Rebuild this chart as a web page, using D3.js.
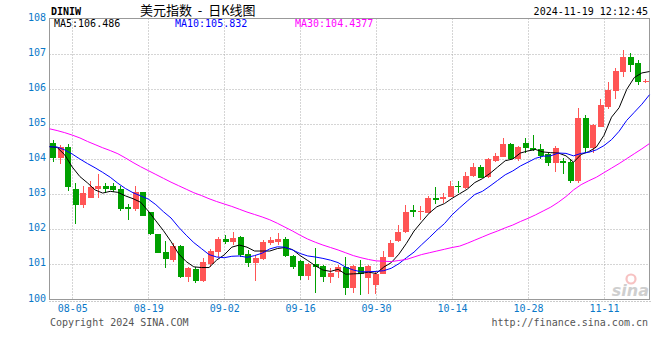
<!DOCTYPE html>
<html>
<head>
<meta charset="utf-8">
<script src="https://cdn.jsdelivr.net/npm/d3@7"></script>
<style>
  body { margin: 0; background: #fff; }
  svg text { font-family: "DejaVu Sans Mono", monospace; font-size: 10px; }
  .ylab text, .xlab text { fill: #0a78c8; }
</style>
</head>
<body>
<div id="kline"></div>
<script>
// trading days shown (07-31 .. 11-19)
const dates = [
  "07-31","08-01","08-02","08-05","08-06","08-07","08-08","08-09","08-12","08-13",
  "08-14","08-15","08-16","08-19","08-20","08-21","08-22","08-23","08-26","08-27",
  "08-28","08-29","08-30","09-02","09-03","09-04","09-05","09-06","09-09","09-10",
  "09-11","09-12","09-13","09-16","09-17","09-18","09-19","09-20","09-23","09-24",
  "09-25","09-26","09-27","09-30","10-01","10-02","10-03","10-04","10-07","10-08",
  "10-09","10-10","10-11","10-14","10-15","10-16","10-17","10-18","10-21","10-22",
  "10-23","10-24","10-25","10-28","10-29","10-30","10-31","11-01","11-04","11-05",
  "11-06","11-07","11-08","11-11","11-12","11-13","11-14","11-15","11-18","11-19"
];

const openV = [
  104.46,104.04,104.35,103.16,102.69,102.90,103.16,103.23,103.23,103.14,
  102.63,102.58,103.05,102.48,101.86,101.35,101.12,101.52,100.65,100.86,
  100.54,101.00,101.34,101.71,101.65,101.77,101.29,101.05,101.15,101.62,
  101.63,101.71,101.24,101.10,100.67,101.01,100.95,100.65,100.79,100.93,
  100.34,100.92,100.60,100.41,100.74,101.22,101.67,101.93,102.55,102.49,
  102.47,102.88,102.85,102.92,103.23,103.18,103.51,103.78,103.48,103.95,
  104.06,104.43,103.99,104.46,104.32,104.28,104.13,103.89,103.95,103.92,
  103.37,105.17,104.32,104.92,105.49,105.93,106.48,106.91,106.74,106.20
];
const highV = [
  104.54,104.40,104.44,103.31,103.23,103.37,103.57,103.31,103.33,103.22,
  102.72,103.23,103.06,102.50,101.87,101.66,101.60,101.55,100.93,100.93,
  101.19,101.43,101.79,101.84,101.93,101.81,101.41,101.27,101.69,101.79,
  101.88,101.79,101.27,101.12,101.05,101.48,100.98,100.89,100.98,101.22,
  100.98,101.12,100.99,100.81,101.38,101.69,102.12,102.69,102.69,102.66,
  102.95,103.21,103.02,103.37,103.37,103.64,103.89,103.83,104.04,104.16,
  104.61,104.46,104.37,104.59,104.68,104.44,104.16,104.37,104.02,104.00,
  105.46,105.25,105.01,105.72,106.20,106.58,107.10,107.01,106.83,106.27
];
const lowV = [
  103.92,103.86,103.10,102.15,102.61,102.88,102.88,103.02,103.05,102.53,
  102.26,102.53,102.38,101.83,101.31,100.91,101.08,100.60,100.51,100.48,
  100.51,100.92,101.22,101.57,101.55,101.22,100.93,100.53,101.12,101.55,
  101.55,101.20,100.86,100.55,100.55,100.18,100.51,100.46,100.60,100.13,
  100.18,100.13,100.16,100.15,100.73,101.20,101.65,101.88,102.34,102.26,
  102.45,102.72,102.76,102.91,103.02,103.16,103.50,103.45,103.45,103.92,
  104.05,103.99,103.95,104.16,104.24,104.00,103.81,103.64,103.57,103.32,
  103.31,104.18,104.18,104.90,105.42,105.72,106.34,106.48,106.12,106.17
];
const closeV = [
  104.04,104.33,103.21,102.69,103.02,103.19,103.23,103.14,103.12,102.59,
  102.58,103.05,102.39,101.86,101.33,101.15,101.52,100.65,100.91,100.54,
  101.06,101.38,101.72,101.65,101.74,101.27,101.05,101.17,101.65,101.69,
  101.71,101.24,100.93,100.67,101.01,100.93,100.65,100.76,100.93,100.34,
  100.95,100.73,100.95,100.74,101.22,101.62,101.93,102.50,102.48,102.52,
  102.88,102.84,102.91,103.23,103.21,103.51,103.78,103.47,103.99,104.08,
  104.43,104.01,104.33,104.30,104.27,104.09,103.89,104.32,103.89,103.37,
  105.16,104.32,104.97,105.54,105.96,106.51,106.91,106.67,106.20,106.23
];

const ma5 = [
  104.35,104.33,104.12,103.77,103.50,103.32,103.12,103.03,103.08,103.05,
  102.95,102.87,102.77,102.52,102.24,101.96,101.65,101.30,101.08,100.93,
  100.91,100.91,101.12,101.27,101.49,101.55,101.49,101.38,101.38,101.38,
  101.45,101.48,101.42,101.25,101.11,100.96,100.84,100.80,100.86,100.72,
  100.73,100.74,100.78,100.74,100.92,101.05,101.29,101.60,101.95,102.21,
  102.46,102.64,102.73,102.88,103.01,103.14,103.33,103.44,103.59,103.77,
  103.95,104.00,104.17,104.23,104.27,104.20,104.18,104.17,104.09,103.91,
  104.13,104.21,104.34,104.67,105.19,105.46,105.98,106.32,106.45,106.49
];
const ma10 = [
  104.35,104.34,104.26,104.14,104.00,103.87,103.75,103.62,103.48,103.31,
  103.16,103.04,102.95,102.86,102.70,102.50,102.32,102.06,101.83,101.62,
  101.45,101.28,101.21,101.19,101.23,101.24,101.20,101.25,101.32,101.44,
  101.50,101.49,101.41,101.31,101.24,101.21,101.17,101.12,101.05,100.92,
  100.84,100.79,100.79,100.80,100.82,100.89,101.02,101.19,101.35,101.56,
  101.76,101.97,102.16,102.41,102.61,102.80,102.99,103.08,103.23,103.39,
  103.55,103.66,103.80,103.91,104.02,104.08,104.09,104.17,104.16,104.09,
  104.16,104.19,104.26,104.38,104.55,104.79,105.10,105.33,105.56,105.83
];
const ma30 = [
  104.86,104.81,104.75,104.68,104.60,104.50,104.41,104.32,104.24,104.15,
  104.03,103.90,103.78,103.67,103.56,103.45,103.34,103.24,103.14,103.04,
  102.96,102.87,102.79,102.72,102.65,102.57,102.49,102.42,102.35,102.27,
  102.17,102.06,101.95,101.83,101.72,101.63,101.55,101.48,101.41,101.33,
  101.25,101.19,101.14,101.10,101.09,101.08,101.11,101.14,101.21,101.28,
  101.33,101.38,101.43,101.48,101.52,101.60,101.69,101.78,101.87,101.95,
  102.04,102.12,102.22,102.31,102.41,102.52,102.63,102.77,102.93,103.12,
  103.27,103.38,103.48,103.61,103.74,103.87,104.01,104.15,104.29,104.44
];

const yTicks = [100, 101, 102, 103, 104, 105, 106, 107, 108];
const xTicks = ["08-05","08-19","09-02","09-16","09-30","10-14","10-28","11-11"];
const maLabels = ["MA5:106.486", "MA10:105.832", "MA30:104.4377"];

const W = 660, H = 360;
const plotL = 49.5, plotR = 649.5, plotT = 18.5, plotB = 299.5;
const UP = "#ff5555", DOWN = "#00a000";
const maColors = ["#000000", "#0000ff", "#ff00ff"];
const gridColor = "#aaaaaa", frameColor = "#999999";

const svg = d3.select("#kline").append("svg")
  .attr("width", W).attr("height", H);

const x  = d3.scaleBand().domain(dates).range([plotL, plotR]);     // candle slots
const xp = d3.scalePoint().domain(dates).range([plotL, plotR]);    // ma lines + date grid
const y  = d3.scaleLinear().domain([100, 108]).range([plotB, plotT]);

// grid
svg.append("g").selectAll("line")
  .data(yTicks.filter(v => v > 100 && v < 108))
  .join("line")
  .attr("x1", plotL).attr("x2", plotR)
  .attr("y1", d => Math.round(y(d)) + 0.5).attr("y2", d => Math.round(y(d)) + 0.5)
  .attr("stroke", gridColor).attr("stroke-dasharray", "1,2");

svg.append("g").selectAll("line")
  .data(xTicks)
  .join("line")
  .attr("x1", d => Math.round(xp(d)) + 0.5).attr("x2", d => Math.round(xp(d)) + 0.5)
  .attr("y1", plotT).attr("y2", plotB)
  .attr("stroke", gridColor).attr("stroke-dasharray", "1,2");

// frame
svg.append("rect")
  .attr("x", plotL).attr("y", plotT)
  .attr("width", plotR - plotL).attr("height", plotB - plotT)
  .attr("fill", "none").attr("stroke", frameColor);

svg.append("line")
  .attr("x1", plotL).attr("x2", plotR + 2)
  .attr("y1", plotB + 2).attr("y2", plotB + 2)
  .attr("stroke", frameColor).attr("stroke-dasharray", "1,2");

// watermark
const wm = svg.append("g").attr("opacity", 0.6);
wm.append("circle").attr("cx", 631).attr("cy", 279).attr("r", 4.5)
  .attr("fill", "none").attr("stroke", "#f29a9a").attr("stroke-width", 2.2);
wm.append("text").attr("x", 649).attr("y", 296).attr("text-anchor", "end")
  .style("font-family", "DejaVu Sans").style("font-size", "16px")
  .style("font-style", "italic").style("font-weight", "bold")
  .attr("fill", "#b0b0b0").text("sina");

// candles
const candles = dates.map((d, i) => ({
  d, o: openV[i], h: highV[i], l: lowV[i], c: closeV[i]
}));

const cg = svg.append("g").attr("shape-rendering", "crispEdges");

cg.selectAll("rect.wick")
  .data(candles)
  .join("rect")
  .attr("class", "wick")
  .attr("x", k => x(k.d) + 3.25)
  .attr("width", 1)
  .attr("y", k => y(k.h))
  .attr("height", k => Math.max(1, y(k.l) - y(k.h)))
  .attr("fill", k => k.c >= k.o ? UP : DOWN);

cg.selectAll("rect.body")
  .data(candles)
  .join("rect")
  .attr("class", "body")
  .attr("x", k => x(k.d) + 0.5)
  .attr("width", 6)
  .attr("y", k => y(Math.max(k.o, k.c)))
  .attr("height", k => Math.max(1, Math.abs(y(k.o) - y(k.c))))
  .attr("fill", k => k.c >= k.o ? UP : DOWN);

// moving averages
[ma5, ma10, ma30].forEach((arr, j) => {
  svg.append("path")
    .datum(arr)
    .attr("fill", "none")
    .attr("stroke", maColors[j])
    .attr("stroke-width", 1)
    .attr("d", d3.line().x((v, i) => xp(dates[i])).y(v => y(v)));
});

// axes
svg.append("g")
  .attr("class", "ylab")
  .attr("transform", "translate(46,0)")
  .call(d3.axisLeft(y).tickValues(yTicks).tickSize(0).tickPadding(0).tickFormat(d3.format("d")))
  .call(g => g.select(".domain").remove())
  .call(g => g.selectAll("text").attr("dy", "0.15em"));

svg.append("g")
  .attr("class", "xlab")
  .attr("transform", `translate(0,${plotB + 5.5})`)
  .call(d3.axisBottom(xp).tickValues(xTicks).tickSize(0).tickPadding(0))
  .call(g => g.select(".domain").remove());

// header
svg.append("text").attr("x", 51).attr("y", 15)
  .style("font-weight", "bold").attr("fill", "#000").text("DINIW");

svg.append("text").attr("x", 140).attr("y", 15)
  .style("font-family", "'Noto Sans CJK SC', sans-serif").style("font-size", "13px")
  .style("white-space", "pre")
  .attr("fill", "#000").text("美元指数  -  日K线图");

svg.append("text").attr("x", 648).attr("y", 15).attr("text-anchor", "end")
  .attr("fill", "#000").text("2024-11-19 12:12:45");

svg.selectAll("text.legend")
  .data(maLabels)
  .join("text")
  .attr("class", "legend")
  .attr("x", (d, i) => [54, 175, 295][i])
  .attr("y", 27)
  .attr("fill", (d, i) => maColors[i])
  .text(d => d);

// footer
svg.append("text").attr("x", 50).attr("y", 326)
  .attr("fill", "#555").text("Copyright 2024 SINA.COM");

svg.append("text").attr("x", 648).attr("y", 326).attr("text-anchor", "end")
  .attr("fill", "#555").text("http://finance.sina.com.cn");
</script>
</body>
</html>
